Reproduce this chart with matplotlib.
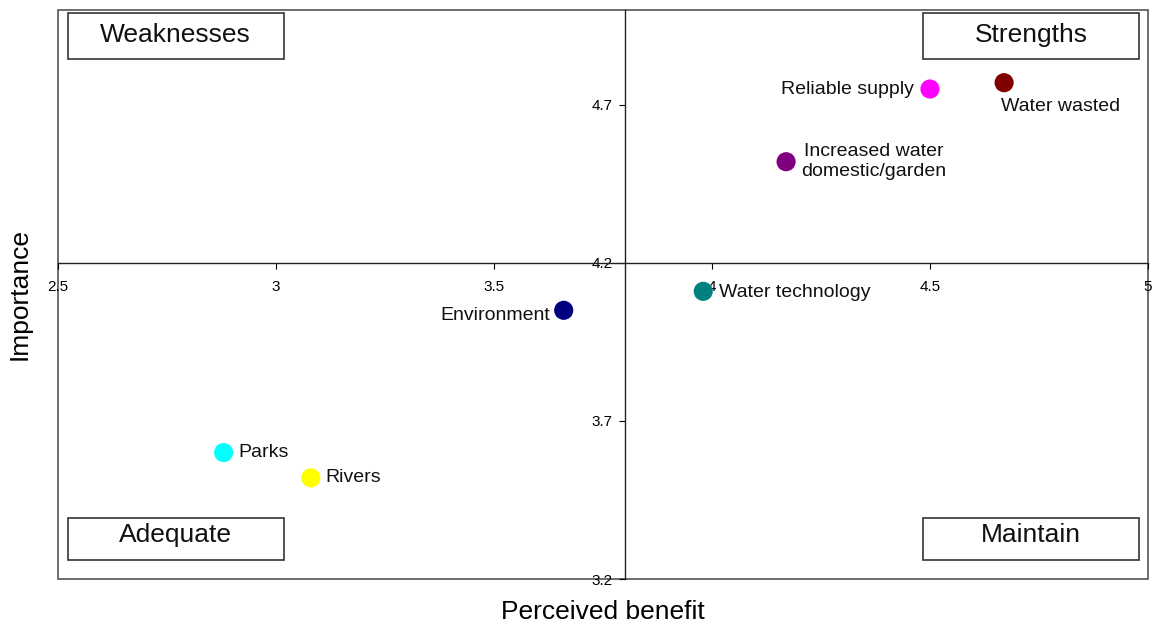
import matplotlib
matplotlib.use('Agg')
import matplotlib.pyplot as plt
from matplotlib.patches import Rectangle

plt.rcParams['font.family'] = ['Liberation Sans', 'DejaVu Sans']

# data
names = ['Water wasted', 'Reliable supply', 'Increased water\ndomestic/garden',
         'Water technology', 'Environment', 'Parks', 'Rivers']
benefit = [4.67, 4.50, 4.17, 3.98, 3.66, 2.88, 3.08]
importance = [4.77, 4.75, 4.52, 4.11, 4.05, 3.60, 3.52]
colors = ['#800000', '#ff00ff', '#800080', '#008080', '#000080', '#00ffff', '#ffff00']
# label offsets in pixels (dx, dy) and alignment
offsets = [(-3, -24, 'left'), (-16, 0, 'right'), (15, 0, 'left'),
           (16, -1, 'left'), (-14, -5, 'right'), (15, 0, 'left'), (15, 0, 'left')]

xticks = [2.5, 3, 3.5, 4, 4.5, 5]
xticklabels = ['2.5', '3', '3.5', '4', '4.5', '5']
yticks = [3.2, 3.7, 4.2, 4.7]
x_cross = 3.8
y_cross = 4.2

quadrants = ['Weaknesses', 'Strengths', 'Adequate', 'Maintain']
# box corners in axes fraction (x0, y0, w, h), text nudge
qboxes = [(0.009, 0.914, 0.198, 0.081), (0.794, 0.914, 0.198, 0.081),
          (0.009, 0.033, 0.198, 0.074), (0.794, 0.033, 0.198, 0.074)]
qnudge = [0.002, 0.002, 0.007, 0.007]

fig = plt.figure(figsize=(11.52, 6.24), dpi=100)
ax = fig.add_axes([0.0503, 0.0721, 0.9462, 0.9119])

ax.scatter(benefit, importance, s=190, c=colors, zorder=3, edgecolors='none')
for i in range(len(names)):
    dx, dy, ha = offsets[i]
    ax.annotate(names[i], (benefit[i], importance[i]), xytext=(dx, dy),
                textcoords='offset pixels', ha=ha, va='center',
                multialignment='center', fontsize=14, color='#111111',
                linespacing=1.25)

ax.set_xlim(2.5, 5)
ax.set_ylim(3.2, 5.0)

ax.spines['left'].set_position(('data', x_cross))
ax.spines['bottom'].set_position(('data', y_cross))
ax.spines['right'].set_visible(False)
ax.spines['top'].set_visible(False)
for s in ['left', 'bottom']:
    ax.spines[s].set_color('#222222')
    ax.spines[s].set_linewidth(1.0)

ax.set_xticks(xticks)
ax.set_xticklabels(xticklabels)
ax.set_yticks(yticks)
ax.tick_params(axis='x', direction='out', length=4, pad=8, labelsize=11)
ax.tick_params(axis='y', direction='out', length=4, pad=5, labelsize=11)

# outer frame
ax.add_patch(Rectangle((0, 0), 1, 1, transform=ax.transAxes, fill=False,
                       edgecolor='#555555', linewidth=1.2, clip_on=False))

for q, (x0, y0, w, h), nd in zip(quadrants, qboxes, qnudge):
    ax.add_patch(Rectangle((x0, y0), w, h, transform=ax.transAxes, fill=False,
                           edgecolor='#333333', linewidth=1.2))
    ax.text(x0 + w / 2, y0 + h / 2 + nd, q, transform=ax.transAxes,
            ha='center', va='center', fontsize=19, color='#111111')

ax.set_xlabel('Perceived benefit', fontsize=19)
ax.set_ylabel('Importance', fontsize=19)
ax.xaxis.set_label_coords(0.5, -0.037)
ax.yaxis.set_label_coords(-0.024, 0.5)

fig.savefig('out.png', dpi=100)
